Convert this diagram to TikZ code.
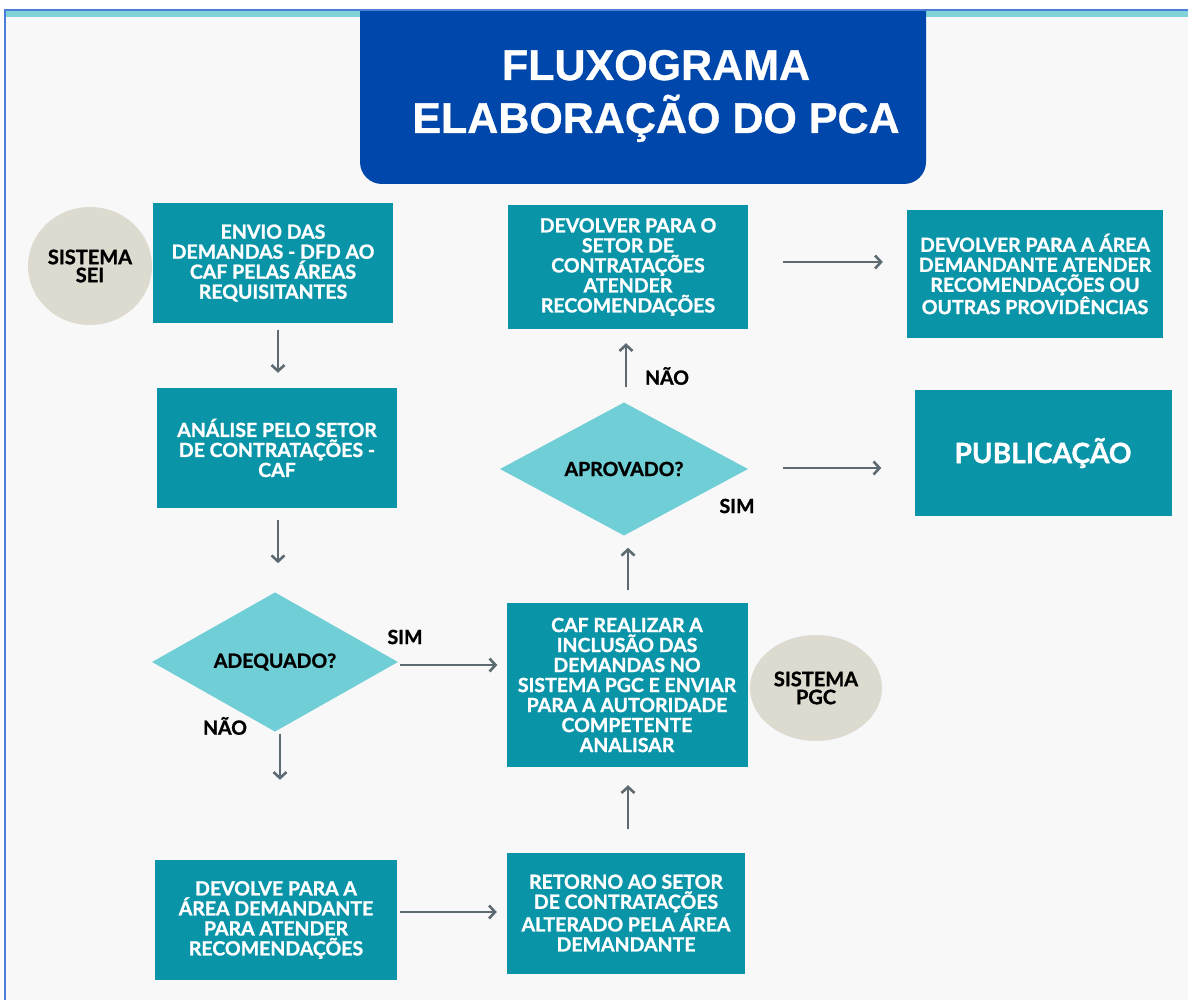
\documentclass[tikz,border=0pt]{standalone}
\usepackage{fontspec}
\setmainfont{Lato}[BoldFeatures={FakeBold=1.2}]
\newfontfamily\titlefamily{Liberation Sans}[BoldFeatures={FakeBold=0.8}]
\usetikzlibrary{shapes.geometric,arrows.meta}
\definecolor{bgcol}{HTML}{F8F8F8}
\definecolor{boxteal}{HTML}{0A94A8}
\definecolor{diateal}{HTML}{70CFD6}
\definecolor{circgray}{HTML}{DDDAD0}
\definecolor{titleblue}{HTML}{0047AB}
\definecolor{arrowgray}{HTML}{5E6A71}
\definecolor{borderblue}{HTML}{4A7FD8}
\definecolor{bandteal}{HTML}{80D4D9}
\tikzset{
  flowbox/.style={fill=boxteal, text=white, align=center, inner sep=0pt,
    font=\bfseries\fontsize{19.5}{20}\selectfont},
  decision/.style={shape=diamond, fill=diateal, text=black, inner sep=0pt,
    font=\bfseries\fontsize{19.5}{20}\selectfont},
  sysnode/.style={shape=ellipse, fill=circgray, text=black, inner sep=0pt, align=center,
    font=\bfseries\fontsize{20}{18}\selectfont},
  lbl/.style={text=black, inner sep=0pt, font=\bfseries\fontsize{19.5}{20}\selectfont},
  arr/.style={draw=arrowgray, line width=2.6pt, -{Straight Barb[length=6pt,width=13pt]}},
  ttl/.style={text=white, inner sep=0pt, anchor=base, font=\titlefamily\bfseries\fontsize{43}{53}\selectfont}
}
\begin{document}
\begin{tikzpicture}[x=1pt,y=-1pt]
\useasboundingbox (0,0) rectangle (1188,1000);
\fill[white] (0,0) rectangle (1188,1000);
\fill[bgcol] (5,11) rectangle (1188,1000);
\fill[bandteal] (5,11) rectangle (1188,17);
\fill[borderblue] (3.5,9) rectangle (1188,11.5);
\fill[borderblue] (3.5,9) rectangle (5.5,1000);
% title
\begin{scope}
  \clip (0,11.5) rectangle (1188,1000);
  \fill[titleblue, rounded corners=22pt] (360,-30) rectangle (926,184);
\end{scope}
\node[ttl] (title1) at (656,80) {FLUXOGRAMA};
\node[ttl] (title2) at (656,133) {ELABORAÇÃO DO PCA};
% system circles
\node[sysnode, minimum width=124pt, minimum height=118pt] (sei) at (90,266) {SISTEMA\\SEI};
\node[sysnode, minimum width=132pt, minimum height=106pt] (pgc) at (816,688) {SISTEMA\\PGC};
% boxes
\node[flowbox, minimum width=240pt, minimum height=120pt] (envio) at (273,263)
  {ENVIO DAS\\DEMANDAS - DFD AO\\CAF PELAS ÁREAS\\REQUISITANTES};
\node[flowbox, minimum width=240pt, minimum height=120pt] (analise) at (277,448)
  {ANÁLISE PELO SETOR\\DE CONTRATAÇÕES -\\CAF};
\node[decision, minimum width=246pt, minimum height=134pt] (adequado) at (275,662) {ADEQUADO?};
\node[flowbox, minimum width=242pt, minimum height=120pt] (devolve) at (276,920)
  {DEVOLVE PARA A\\ÁREA DEMANDANTE\\PARA ATENDER\\RECOMENDAÇÕES};
\node[flowbox, minimum width=238pt, minimum height=121pt] (retorno) at (626,913)
  {RETORNO AO SETOR\\DE CONTRATAÇÕES\\ALTERADO PELA ÁREA\\DEMANDANTE};
\node[flowbox, minimum width=241pt, minimum height=164pt] (caf) at (627,685)
  {CAF REALIZAR A\\INCLUSÃO DAS\\DEMANDAS NO\\SISTEMA PGC E ENVIAR\\PARA A AUTORIDADE\\COMPETENTE\\ANALISAR};
\node[decision, minimum width=248pt, minimum height=130pt] (aprovado) at (624,469) {APROVADO?};
\node[flowbox, minimum width=240pt, minimum height=124pt] (devsetor) at (628,267)
  {DEVOLVER PARA O\\SETOR DE\\CONTRATAÇÕES\\ATENDER\\RECOMENDAÇÕES};
\node[flowbox, minimum width=256pt, minimum height=127pt] (devarea) at (1035,274)
  {DEVOLVER PARA A ÁREA\\DEMANDANTE ATENDER\\RECOMENDAÇÕES OU\\OUTRAS PROVIDÊNCIAS};
\node[flowbox, minimum width=257pt, minimum height=126pt, font=\bfseries\fontsize{28}{30}\selectfont] (publicacao) at (1043,453) {PUBLICAÇÃO};
% labels
\node[lbl] (sim1) at (405,637) {SIM};
\node[lbl] (nao1) at (225,726) {NÃO};
\node[lbl] (nao2) at (667,376) {NÃO};
\node[lbl] (sim2) at (737,506) {SIM};
% arrows
\draw[arr] ([xshift=5pt,yshift=-7pt]envio.south) -- ([xshift=1pt,yshift=15pt]analise.north);
\draw[arr] ([xshift=1pt,yshift=-12pt]analise.south) -- ([xshift=3pt,yshift=29pt]adequado.north);
\draw[arr] ([xshift=2pt,yshift=-3pt]adequado.east) -- ([xshift=-9pt,yshift=20pt]caf.west);
\draw[arr] ([xshift=5pt,yshift=-2pt]adequado.south) -- ([xshift=4pt,yshift=80pt]devolve.north);
\draw[arr] ([xshift=3pt,yshift=8pt]devolve.east) -- ([xshift=-10pt,yshift=1pt]retorno.west);
\draw[arr] ([xshift=2pt,yshift=23pt]retorno.north) -- ([xshift=1pt,yshift=-18pt]caf.south);
\draw[arr] ([xshift=1pt,yshift=13pt]caf.north) -- ([xshift=4pt,yshift=-12pt]aprovado.south);
\draw[arr] ([xshift=2pt,yshift=15pt]aprovado.north) -- ([xshift=-2pt,yshift=-14pt]devsetor.south);
\draw[arr] ([xshift=35pt,yshift=5pt]devsetor.east) -- ([xshift=-24pt,yshift=12pt]devarea.west);
\draw[arr] ([xshift=35pt,yshift=1pt]aprovado.east) -- ([xshift=-33pt,yshift=-15pt]publicacao.west);
\end{tikzpicture}
\end{document}
